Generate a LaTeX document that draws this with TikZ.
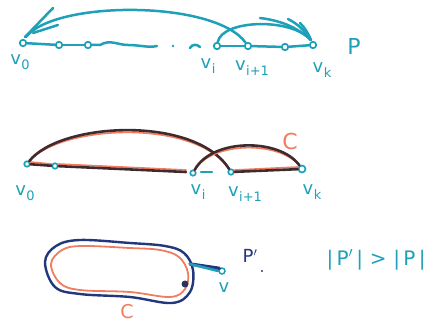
\documentclass[tikz,border=0pt]{standalone}
\usepackage{fontspec}
\setmainfont{DejaVu Sans}
\usetikzlibrary{arrows.meta}
\definecolor{cy}{RGB}{30,160,185}
\definecolor{dk}{RGB}{65,42,45}
\definecolor{sal}{RGB}{240,125,95}
\definecolor{nv}{RGB}{35,55,125}
\newcommand\vsub[1]{v\kern0.5pt\raisebox{-0.3em}{\fontsize{13}{13}\selectfont #1}}
\tikzset{
  vtx/.style={circle,draw=cy,line width=1.7pt,inner sep=0pt,minimum size=6.5pt,fill=white},
  lbl/.style={text=cy,font=\fontsize{18}{18}\selectfont,inner sep=1pt},
  edge/.style={draw=cy,line width=2.5pt,line cap=round},
  darke/.style={draw=dk,line width=2.6pt,line cap=round},
  shade/.style={draw=sal,line width=1.6pt,line cap=round},
}
\begin{document}
\begin{tikzpicture}[x=1pt,y=-1pt]
\useasboundingbox (0,0) rectangle (435,326);
% ---------- top: path P ----------
\node[vtx] (a0) at (23,43) {};
\node[vtx] (a1) at (59,45) {};
\node[vtx] (a2) at (88,45) {};
\coordinate (w1) at (100,45);
\coordinate (w2) at (157,46);
\node[vtx] (ai) at (217,46) {};
\node[vtx] (aj) at (248,46) {};
\node[vtx] (ak1) at (285,47) {};
\node[vtx] (ak) at (313,45) {};
\draw[edge] (a0) -- (a1);
\draw[edge] (a1) -- (a2);
\draw[edge] (a2) -- (w1) .. controls (110,39) and (118,45) .. (128,45) .. controls (140,45) and (148,48) .. (w2);
\fill[cy] (173,46) circle (1.4pt);
\draw[edge] (190,48) .. controls (192,44) and (197,44) .. (200,47);
\draw[edge] (ai) -- (aj);
\draw[edge] (aj) -- (ak1);
\draw[edge] (ak1) -- (ak);
% arcs
\draw[edge] (aj) .. controls (215,0) and (55,0) .. (26,37);
\draw[edge] (53,8) -- (25,37);
\draw[edge] (58,25) -- (33,33);
\draw[edge] (ai) .. controls (222,20) and (290,17) .. (311,40);
\draw[edge] (260,18) .. controls (285,21) and (300,30) .. (311,40);
\draw[edge] (288,19) .. controls (298,24) and (305,31) .. (311,40);
\draw[edge] (300,23) .. controls (305,28) and (308,33) .. (311,40);
\node[lbl] (l0) at (20,62) {\vsub{0}};
\node[lbl] (li) at (208,66) {\vsub{i}};
\node[lbl] (lj) at (252,68) {\vsub{i+1}};
\node[lbl] (lk) at (322,70) {\vsub{k}};
\node[text=cy,font=\fontsize{22}{22}\selectfont] (P) at (354,46) {P};
% ---------- middle: cycle C ----------
\node[vtx,minimum size=5.5pt] (b0) at (27,164) {};
\node[vtx,minimum size=5.5pt] (b1) at (55,166) {};
\node[vtx,minimum size=5.5pt] (bi) at (193,173) {};
\node[vtx,minimum size=5.5pt] (bj) at (231,172) {};
\node[vtx,minimum size=7pt] (bk) at (302,169) {};
\coordinate (bm) at (186,172);
\draw[shade] ([yshift=2pt]b0.east) -- ([yshift=2pt]b1.west);
\draw[shade] ([yshift=2pt]b1.east) -- ([yshift=2pt]bm);
\draw[darke] (b0) -- (b1);
\draw[darke] (b1) -- (bm);
\draw[edge] (201,172) -- (212,172);
\draw[shade] ([yshift=2pt]bj.east) -- ([yshift=2pt]bk.west);
\draw[darke] (bj) -- (bk);
\draw[shade] ([yshift=2pt]b0) .. controls (60,125) and (195,118) .. ([yshift=2pt]bj);
\draw[darke] (b0) .. controls (60,122) and (195,115) .. (bj);
\draw[shade] ([yshift=2pt]bi) .. controls (212,141) and (280,141) .. ([yshift=2pt]bk);
\draw[darke] (bi) .. controls (212,138) and (280,138) .. (bk);
\node[text=sal,font=\fontsize{22}{22}\selectfont] (C1) at (290,141) {C};
\node[lbl] (m0) at (25,193) {\vsub{0}};
\node[lbl] (mi) at (198,192) {\vsub{i}};
\node[lbl] (mj) at (245,194) {\vsub{i+1}};
\node[lbl] (mk) at (312,192) {\vsub{k}};
% ---------- bottom: longer path ----------
\draw[nv,line width=2.4pt] plot[smooth cycle,tension=0.6] coordinates {
  (45,262) (56,246) (80,240) (130,243) (165,246) (184,253) (193,270) (190,292)
  (172,303) (130,297) (80,294) (55,287)};
\draw[sal,line width=1.8pt] plot[smooth cycle,tension=0.6] coordinates {
  (51,264) (62,250) (82,246) (130,248) (160,250) (179,257) (188,273) (185,289)
  (170,297) (130,292) (80,290) (60,283)};
\node[vtx,minimum size=6pt,line width=1.5pt] (v) at (222,271) {};
\coordinate (t) at (190,264);
\draw[nv,line width=3.4pt,line cap=round] (t) -- (v.north west);
\draw[cy,line width=2.6pt,line cap=round] (t) -- (v.west);
\node[circle,fill=nv!60!dk,inner sep=0pt,minimum size=7pt] (d) at (185,284) {};
\node[lbl] (vl) at (224,288) {v};
\node[text=nv,font=\fontsize{18}{18}\selectfont] (Pp) at (250,256) {P$'$};
\fill[nv] (262,271) circle (1.2pt);
\node[text=cy,font=\fontsize{20}{20}\selectfont] (ineq) at (376,260) {|\,P$'$\,|\,\,>\,\,|\,P\,|};
\node[text=sal,font=\fontsize{19}{19}\selectfont] (C2) at (127,312) {C};
\end{tikzpicture}
\end{document}
